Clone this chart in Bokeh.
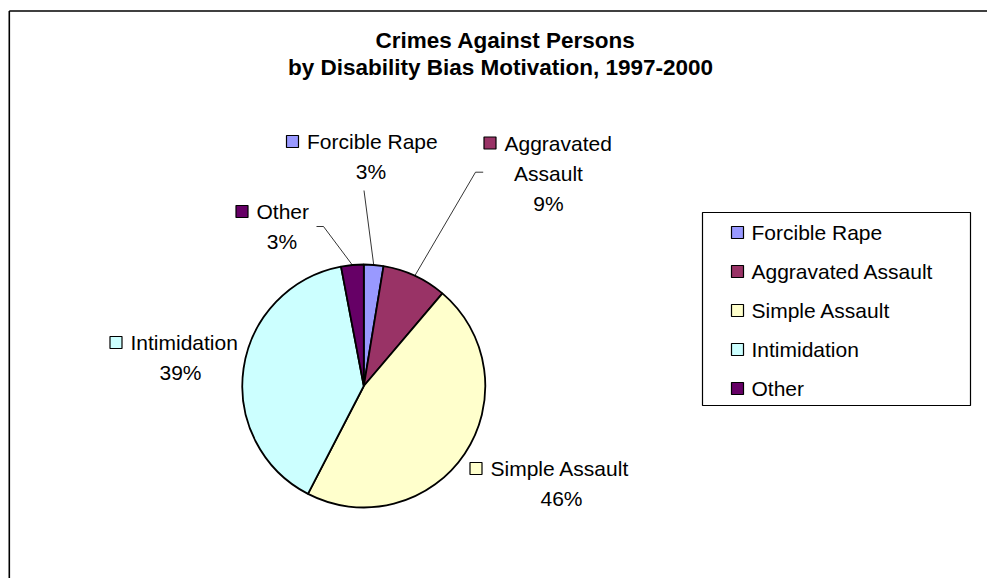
import math
from bokeh.plotting import figure
from bokeh.models import ColumnDataSource, Range1d
from bokeh.core.properties import value
from bokeh.embed import file_html
from bokeh.resources import INLINE

# ---------------- data ----------------
categories = ["Forcible Rape", "Aggravated Assault", "Simple Assault", "Intimidation", "Other"]
shares = [2.6, 8.6, 46.4, 39.4, 3.0]
colors = ["#9999FF", "#993366", "#FFFFCC", "#CCFFFF", "#660066"]
title_lines = ["Crimes Against Persons", "by Disability Bias Motivation, 1997-2000"]

# ---------------- layout (picture pixels) ----------------
W, H = 987, 578
def Y(py):
    return H - py

FONT = value("Liberation Sans")
LBL = "21px"
cx, cy, R = 363.3, 385.5, 121.5

p = figure(width=W, height=H, x_range=Range1d(0, W), y_range=Range1d(0, H),
           output_backend="svg", toolbar_location=None, min_border=0,
           x_axis_location=None, y_axis_location=None)
p.grid.visible = False
p.outline_line_color = None
p.background_fill_color = "white"
p.border_fill_color = "white"

# chart-area border (left and top visible)
p.multi_line(xs=[[8.8, 8.8], [8.8, 1000]], ys=[[Y(10.5), Y(600)], [Y(10.5), Y(10.5)]],
             line_color="black", line_width=1.6)

# title
p.text(x=[505, 500], y=[Y(40), Y(67)], text=title_lines, text_font=FONT,
       text_font_size="22.5px", text_font_style="bold", text_align="center",
       text_baseline="middle", text_color="black")

# ---------------- pie ----------------
total = sum(shares)
fr = [s / total for s in shares]
cum = [0.0]
for f in fr:
    cum.append(cum[-1] + f)
start = [math.pi / 2 - 2 * math.pi * cum[i] for i in range(len(fr))]
end = [math.pi / 2 - 2 * math.pi * cum[i + 1] for i in range(len(fr))]
src = ColumnDataSource(dict(cat=categories, start=start, end=end, color=colors))
p.wedge(x=cx, y=Y(cy), radius=R, start_angle="start", end_angle="end",
        direction="clock", fill_color="color", line_color="black", line_width=1.8,
        source=src)

# ---------------- data labels ----------------
pct = [f"{round(f * 100)}%" for f in fr]
lab_left = [306.5, 504, 490, 130, 256]
lab_y1 = [141, 142.5, 468, 342, 211]
lab_center = [370.5, 548, 561, 180, 281.5]
wrap = [False, True, False, False, False]

m_x, m_y, m_c = [], [], []
t1_x, t1_y, t1 = [], [], []
t2_x, t2_y, t2 = [], [], []
for i, name in enumerate(categories):
    m_x.append(lab_left[i] - 14.5); m_y.append(Y(lab_y1[i])); m_c.append(colors[i])
    lines = name.split(" ") if wrap[i] else [name]
    t1_x.append(lab_left[i]); t1_y.append(Y(lab_y1[i])); t1.append(lines[0])
    rest = lines[1:] + [pct[i]]
    for k, t in enumerate(rest):
        t2_x.append(lab_center[i]); t2_y.append(Y(lab_y1[i] + 30 * (k + 1))); t2.append(t)

p.rect(x=m_x, y=m_y, width=12, height=12, width_units="screen", height_units="screen",
       fill_color=m_c, line_color="black", line_width=1.2)
p.text(x=t1_x, y=t1_y, text=t1, text_font=FONT, text_font_size=LBL,
       text_align="left", text_baseline="middle", text_color="black")
p.text(x=t2_x, y=t2_y, text=t2, text_font=FONT, text_font_size=LBL,
       text_align="center", text_baseline="middle", text_color="black")

# leader lines (from label anchor to the slice's outer edge at its mid angle)
leader_pts = {0: [(363.5, 190)], 1: [(482.7, 171.7), (475, 171.7)], 4: [(316, 226), (323, 226)]}
lxs, lys = [], []
for i, pts in leader_pts.items():
    a = 2 * math.pi * (cum[i] + fr[i] / 2)
    ex, ey = cx + R * math.sin(a), cy - R * math.cos(a)
    lxs.append([q[0] for q in pts] + [ex])
    lys.append([Y(q[1]) for q in pts] + [Y(ey)])
p.multi_line(xs=lxs, ys=lys, line_color="black", line_width=0.8)

# ---------------- legend ----------------
p.quad(left=702, right=970, top=Y(212), bottom=Y(405), fill_color="white",
       line_color="black", line_width=1.2)
leg_y = [Y(232 + 39 * i) for i in range(len(categories))]
p.rect(x=[737] * len(categories), y=leg_y, width=12, height=12, width_units="screen",
       height_units="screen", fill_color=colors, line_color="black", line_width=1.2)
p.text(x=[751] * len(categories), y=leg_y, text=categories, text_font=FONT,
       text_font_size=LBL, text_align="left", text_baseline="middle", text_color="black")

open("out.html", "w").write(file_html(p, INLINE))
